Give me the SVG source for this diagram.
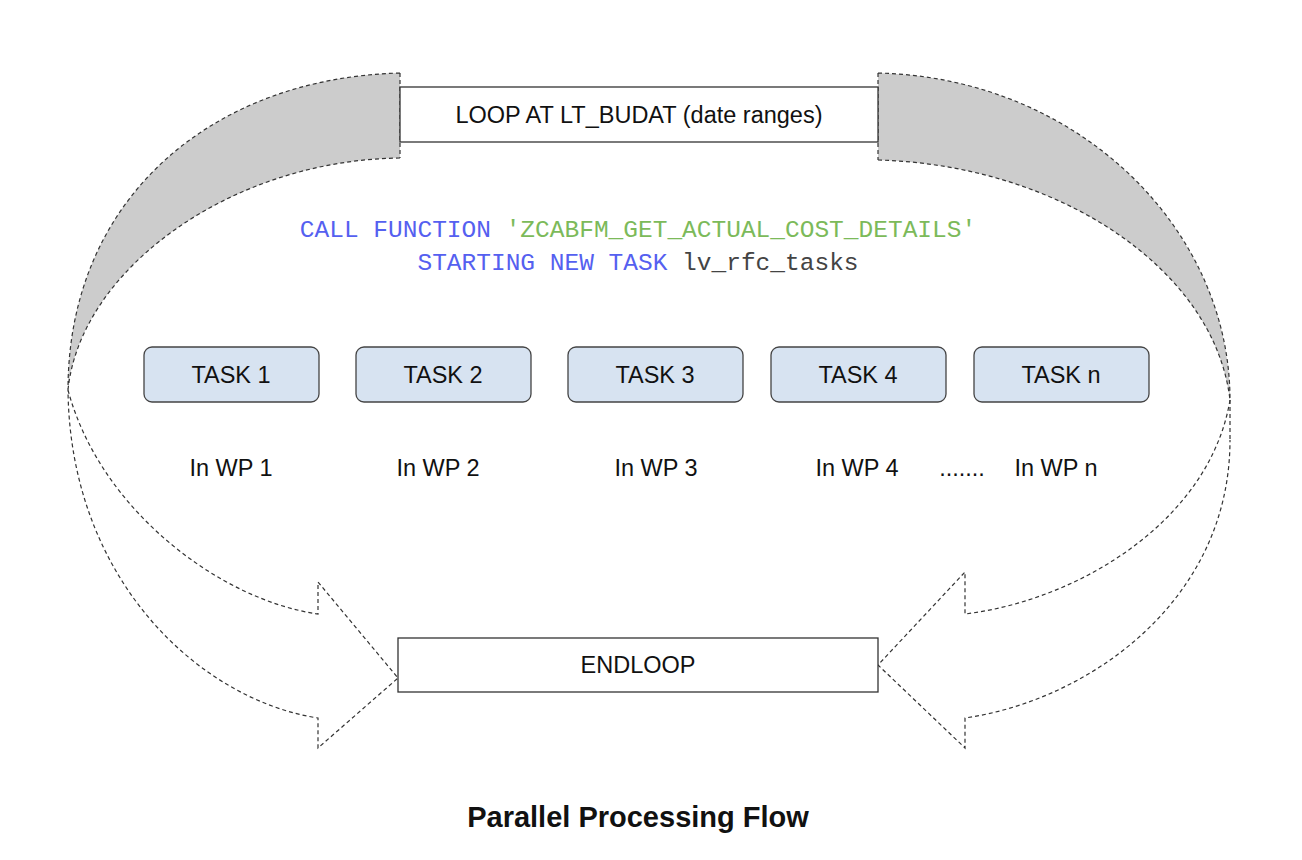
<svg xmlns="http://www.w3.org/2000/svg" width="1302" height="860" viewBox="0 0 1302 860">
<style>
.d{fill:none;stroke:#333;stroke-width:1.2;stroke-dasharray:4 3}
.g{fill:#cccccc;stroke:none}
.box{fill:#fff;stroke:#333;stroke-width:1.3}
.task{fill:#d7e3f1;stroke:#444;stroke-width:1.3}
.t{font-family:"Liberation Sans",Arial,sans-serif;font-size:23.5px;fill:#111;text-anchor:middle}
.m{font-family:"Liberation Mono","Courier New",monospace;font-size:24.5px}
</style>
<rect width="1302" height="860" fill="#fff"/>
<g id="connectors">
<path class="g" d="M400,73 C210,78 68,200 68,390 C80,270 230,160 400,158 Z"/>
<path class="d" d="M400,73 C210,78 68,200 68,390 M400,158 C230,160 80,270 68,390 M400,73 V158"/>
<path class="d" d="M68,390 C100,510 220,600 318,614 V582 L398,678 L318,748 V718 C200,700 70,580 68,390"/>
<path class="g" d="M878,73 C1080,78 1230,230 1230,400 C1215,270 1060,165 878,160 Z"/>
<path class="d" d="M878,73 C1080,78 1230,230 1230,400 M878,160 C1060,165 1215,270 1230,400 M878,73 V160 M1230,400 V440"/>
<path class="d" d="M1230,400 C1210,520 1080,600 965,614 V572 L878,665 L965,748 V718 C1090,700 1230,600 1230,440"/>
</g>
<g id="loop"><rect class="box" x="400" y="87" width="478" height="55"/><text class="t" x="639" y="123">LOOP AT LT_BUDAT (date ranges)</text></g>
<g id="call">
<text class="m" x="638" y="237" text-anchor="middle"><tspan fill="#5560f0">CALL FUNCTION </tspan><tspan fill="#7cba5a">'ZCABFM_GET_ACTUAL_COST_DETAILS'</tspan></text>
<text class="m" x="638" y="270" text-anchor="middle"><tspan fill="#5560f0">STARTING NEW TASK </tspan><tspan fill="#444">lv_rfc_tasks</tspan></text>
</g>
<g id="task1"><rect class="task" x="144" y="347" width="175" height="55" rx="8"/><text class="t" x="231" y="383">TASK 1</text></g>
<g id="task2"><rect class="task" x="356" y="347" width="175" height="55" rx="8"/><text class="t" x="443" y="383">TASK 2</text></g>
<g id="task3"><rect class="task" x="568" y="347" width="175" height="55" rx="8"/><text class="t" x="655" y="383">TASK 3</text></g>
<g id="task4"><rect class="task" x="771" y="347" width="175" height="55" rx="8"/><text class="t" x="858" y="383">TASK 4</text></g>
<g id="taskn"><rect class="task" x="974" y="347" width="175" height="55" rx="8"/><text class="t" x="1061" y="383">TASK n</text></g>
<g id="wps">
<text class="t" x="231" y="476">In WP 1</text>
<text class="t" x="438" y="476">In WP 2</text>
<text class="t" x="656" y="476">In WP 3</text>
<text class="t" x="857" y="476">In WP 4</text>
<text class="t" x="962" y="476">.......</text>
<text class="t" x="1056" y="476">In WP n</text>
</g>
<g id="endloop"><rect class="box" x="398" y="638" width="480" height="54"/><text class="t" x="638" y="673">ENDLOOP</text></g>
<text class="t" x="638" y="827" style="font-weight:bold;font-size:29px">Parallel Processing Flow</text>
</svg>
